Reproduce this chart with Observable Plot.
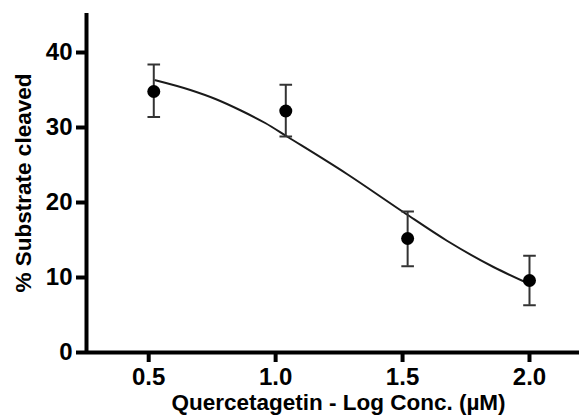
<!DOCTYPE html>
<html>
<head>
<meta charset="utf-8">
<script src="https://cdn.jsdelivr.net/npm/d3@7"></script>
<script src="https://cdn.jsdelivr.net/npm/@observablehq/plot@0.6"></script>
<style>
  html, body { margin: 0; padding: 0; background: #fff; }
  #chart svg g[aria-label$="tick label"], #chart svg g[aria-label$="tick label"] text { font-size: 24px; font-weight: bold; fill: #000; }
</style>
</head>
<body>
<div id="chart"></div>
<script>
// Measured data (log concentration, % substrate cleaved)
const logConc = [0.52, 1.04, 1.52, 2.00];
const meanCleaved = [34.8, 32.2, 15.2, 9.6];
const errUpper = [38.4, 35.7, 18.8, 12.9];
const errLower = [31.4, 28.8, 11.5, 6.3];

// Fitted curve
const fitX = [0.526, 0.664, 0.763, 0.861, 0.959, 1.045, 1.281, 1.504, 1.675, 1.858, 1.996];
const fitY = [36.3, 35.0, 33.8, 32.3, 30.6, 28.8, 23.8, 18.7, 14.9, 11.4, 9.2];

const xTicks = [0.5, 1.0, 1.5, 2.0];
const yTicks = [0, 10, 20, 30, 40];
const xDomain = [0.255, 2.197];
const yDomain = [0, 45.2];
const xTitle = "Quercetagetin - Log Conc. (µM)";
const yTitle = "% Substrate cleaved";

const points = logConc.map((x, i) => ({x, y: meanCleaved[i], hi: errUpper[i], lo: errLower[i]}));
const fit = fitX.map((x, i) => ({x, y: fitY[i]}));

const capSymbol = {
  draw(context, size) {
    const w = Math.sqrt(size / Math.PI);
    context.moveTo(-w, 0);
    context.lineTo(w, 0);
  }
};

const font = "'Liberation Sans', Arial, Helvetica, sans-serif";

const chart = Plot.plot({
  width: 579,
  height: 415,
  marginLeft: 86,
  marginRight: 0,
  marginTop: 13,
  marginBottom: 63,
  style: {fontFamily: font, fontWeight: "bold", color: "#000", background: "#fff"},
  x: {domain: xDomain},
  y: {domain: yDomain},
  marks: [
    Plot.axisY({ticks: yTicks, tickSize: 10, tickPadding: 4, strokeWidth: 4, label: null, fontSize: 24, fontWeight: "bold", fill: "#000", tickFormat: d3.format("d")}),
    Plot.axisX({ticks: xTicks, tickSize: 10, tickPadding: 5, strokeWidth: 4, label: null, fontSize: 24, fontWeight: "bold", fill: "#000", tickFormat: d3.format(".1f")}),
    Plot.ruleX([xDomain[0]], {stroke: "#000", strokeWidth: 4}),
    Plot.ruleY([0], {stroke: "#000", strokeWidth: 4}),
    Plot.line(fit, {x: "x", y: "y", curve: "monotone-x", stroke: "#1a1a1a", strokeWidth: 2}),
    Plot.ruleX(points, {x: "x", y1: "lo", y2: "hi", stroke: "#333", strokeWidth: 2}),
    Plot.dot(points, {x: "x", y: "hi", symbol: capSymbol, r: 6.3, stroke: "#333", strokeWidth: 2, fill: "none"}),
    Plot.dot(points, {x: "x", y: "lo", symbol: capSymbol, r: 6.3, stroke: "#333", strokeWidth: 2, fill: "none"}),
    Plot.dot(points, {x: "x", y: "y", r: 6.5, fill: "#000", stroke: "none"}),
    Plot.text([xTitle], {frameAnchor: "bottom", textAnchor: "middle", lineAnchor: "bottom", dx: 5.5, dy: 57, fontSize: 22.5, fontWeight: "bold", fill: "#000"}),
    Plot.text([yTitle], {frameAnchor: "left", textAnchor: "middle", dx: -63, rotate: -90, fontSize: 22.5, fontWeight: "bold", fill: "#000"})
  ]
});

document.getElementById("chart").appendChild(chart);
</script>
</body>
</html>
